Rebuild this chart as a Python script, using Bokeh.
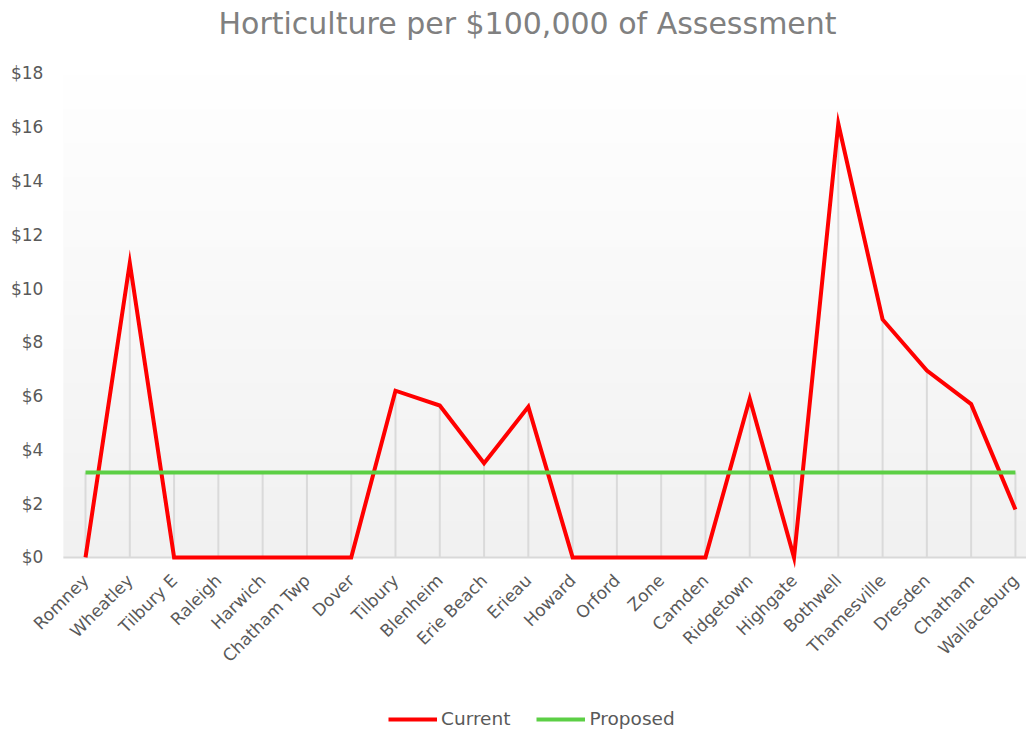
import numpy as np
from bokeh.plotting import figure
from bokeh.models import (ColumnDataSource, Range1d, NumeralTickFormatter,
                          Legend, LegendItem, FixedTicker, Title)
from bokeh.embed import file_html
from bokeh.resources import INLINE
from math import pi

categories = ["Romney", "Wheatley", "Tilbury E", "Raleigh", "Harwich", "Chatham Twp", "Dover",
              "Tilbury", "Blenheim", "Erie Beach", "Erieau", "Howard", "Orford", "Zone", "Camden",
              "Ridgetown", "Highgate", "Bothwell", "Thamesville", "Dresden", "Chatham", "Wallaceburg"]
current = [0, 10.95, 0, 0, 0, 0, 0, 6.2, 5.65, 3.5, 5.6, 0, 0, 0, 0, 5.9, 0, 16.13, 8.85, 6.95, 5.7, 1.78]
proposed = [3.16] * len(categories)
y_ticks = [0, 2, 4, 6, 8, 10, 12, 14, 16, 18]

FONT = "DejaVu Sans"
idx = list(range(len(categories)))
src = ColumnDataSource(dict(x=idx, cur=current, prop=proposed,
                            top=[max(a, b) for a, b in zip(current, proposed)],
                            zero=[0] * len(categories)))

PA0 = -0.5                      # left edge of the plot area (category units)
PA1 = len(categories) - 0.5     # right edge of the plot area
YMAX = 18                       # top of the value axis
X0, X1 = -1.92, 21.25           # visible range incl. room for the value labels
Y0, Y1 = -6.4, 18.48            # extra room below zero (labels, legend) and above the top tick
p = figure(width=1026, height=729, output_backend="svg", toolbar_location=None, title=None,
           x_range=Range1d(X0, X1), y_range=Range1d(Y0, Y1),
           min_border_left=0, min_border_right=0, min_border_bottom=0, min_border_top=60)
p.outline_line_color = None
p.background_fill_color = "white"
p.border_fill_color = "white"
p.grid.visible = False

# gradient background of the plot area
n = 200
shade = np.linspace(241, 255, n).astype(np.uint32)  # bottom -> top
img = np.empty((n, 2), dtype=np.uint32)
view = img.view(dtype=np.uint8).reshape((n, 2, 4))
for k in range(n):
    view[k, :, 0] = shade[k]
    view[k, :, 1] = shade[k]
    view[k, :, 2] = shade[k]
    view[k, :, 3] = 255
p.image_rgba(image=[img], x=PA0, y=0, dw=PA1 - PA0, dh=YMAX)

# baseline and drop lines
p.segment(x0=[PA0], y0=[0], x1=[PA1], y1=[0], line_color="#d9d9d9", line_width=2)
p.segment(x0="x", y0="zero", x1="x", y1="top", source=src, line_color="#dadada", line_width=2)

r_cur = p.line("x", "cur", source=src, line_color="#ff0000", line_width=4, line_join="miter")
r_prop = p.line("x", "prop", source=src, line_color="#5ccf45", line_width=4)

# title (with a spacer between frame and title)
p.add_layout(Title(text=" ", text_font_size="1px", standoff=17), "above")
p.add_layout(Title(text="Horticulture per $100,000 of Assessment", text_font=FONT,
                   text_font_size="30px", text_font_style="normal", text_color="#808080",
                   align="left", offset=218, standoff=0), "above")

# axes
p.xaxis.fixed_location = 0
p.xaxis.ticker = FixedTicker(ticks=idx)
p.xaxis.major_label_overrides = {i: c for i, c in enumerate(categories)}
p.xaxis.major_label_orientation = pi / 4
p.xaxis.major_label_text_font = FONT
p.xaxis.major_label_text_font_size = "17px"
p.xaxis.major_label_text_color = "#595959"
p.xaxis.axis_line_color = None
p.xaxis.major_tick_line_color = None
p.xaxis.minor_tick_line_color = None
p.xaxis.major_tick_out = 0
p.xaxis.minor_tick_out = 0
p.xaxis.major_label_standoff = 20

p.yaxis.fixed_location = PA0
p.yaxis.ticker = FixedTicker(ticks=y_ticks)
p.yaxis.formatter = NumeralTickFormatter(format="$0")
p.yaxis.major_label_text_font = FONT
p.yaxis.major_label_text_font_size = "17px"
p.yaxis.major_label_text_color = "#595959"
p.yaxis.axis_line_color = None
p.yaxis.major_tick_line_color = None
p.yaxis.minor_tick_line_color = None
p.yaxis.major_tick_out = 0
p.yaxis.minor_tick_out = 0
p.yaxis.major_label_standoff = 20

legend = Legend(items=[LegendItem(label="Current", renderers=[r_cur]),
                       LegendItem(label="Proposed", renderers=[r_prop])],
                orientation="horizontal", location=(388, 0),
                label_text_font=FONT, label_text_font_size="18.5px", label_text_color="#595959",
                glyph_width=49, glyph_height=18, label_standoff=4, spacing=26, padding=0, margin=0,
                border_line_color=None, background_fill_alpha=0)
p.add_layout(legend, "center")

open("out.html", "w").write(file_html(p, INLINE))
